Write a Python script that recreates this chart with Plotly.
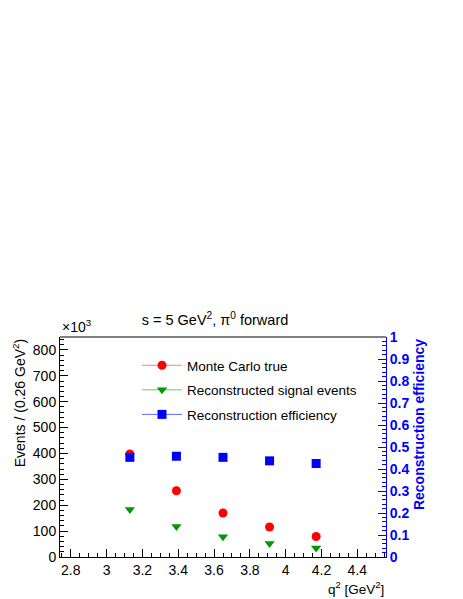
import plotly.graph_objects as go

# bin centres of q^2 (bin width 0.26 GeV^2)
q2 = [3.13, 3.39, 3.65, 3.91, 4.17]
mc_true = [398, 256, 170, 116, 79]          # x10^3 events
reco_signal = [184, 118, 78, 52, 35]        # x10^3 events
efficiency = [0.453, 0.458, 0.453, 0.437, 0.425]

font = "Liberation Sans, Arial, sans-serif"

fig = go.Figure()

fig.add_trace(go.Scatter(x=q2, y=mc_true, mode="markers", showlegend=False,
                         marker=dict(symbol="circle", size=9, color="#ff0000")))
fig.add_trace(go.Scatter(x=q2, y=reco_signal, mode="markers", showlegend=False,
                         marker=dict(symbol="triangle-down", size=9, color="#009900")))
fig.add_trace(go.Scatter(x=q2, y=efficiency, mode="markers", showlegend=False, yaxis="y2",
                         marker=dict(symbol="square", size=9, color="#0000ff")))

# legend entries (line + marker, like the ROOT legend)
fig.add_trace(go.Scatter(x=[None], y=[None], mode="lines+markers", name="Monte Carlo true",
                         legendgroup="a", line=dict(color="#ff8080", width=1),
                         marker=dict(symbol="circle", size=9, color="#ff0000")))
fig.add_trace(go.Scatter(x=[None], y=[None], mode="lines+markers", name="Reconstructed signal events",
                         legendgroup="b", line=dict(color="#66cc66", width=1),
                         marker=dict(symbol="triangle-down", size=9, color="#009900")))
fig.add_trace(go.Scatter(x=[None], y=[None], mode="lines+markers", name="Reconstruction efficiency",
                         legendgroup="c", line=dict(color="#6666ff", width=1),
                         marker=dict(symbol="square", size=9, color="#0000ff")))

# page body adds an 8px margin, so the figure is drawn 8px smaller and offset
fig.update_layout(
    width=455, height=591,
    margin=dict(l=52, r=77, t=329, b=42),
    paper_bgcolor="white", plot_bgcolor="white",
    font=dict(family=font, size=14, color="black"),
    title=dict(text="s = 5 GeV<sup>2</sup>, π<sup>0</sup> forward", x=207 / 455, xanchor="center",
               y=1 - 312 / 591, yanchor="middle", font=dict(size=14.5)),
    xaxis=dict(range=[2.74, 4.56], dtick=0.2, tick0=2.8, ticks="inside", ticklen=8,
               tickcolor="black", showgrid=False, zeroline=False, showline=True,
               linecolor="black", mirror=False,
               minor=dict(dtick=0.05, ticks="inside", ticklen=4, tickcolor="black")),
    yaxis=dict(range=[0, 850], dtick=100, ticks="inside", ticklen=8, tickcolor="black",
               showgrid=False, zeroline=False, showline=True, linecolor="black",
               minor=dict(dtick=20, ticks="inside", ticklen=4, tickcolor="black")),
    yaxis2=dict(range=[0, 1], dtick=0.1, overlaying="y", side="right", anchor="x",
                ticks="inside", ticklen=8, tickcolor="#0000ff", showgrid=False,
                zeroline=False, showline=True, linecolor="#0000ff",
                tickfont=dict(color="#0000ff", size=14, weight="bold"),
                tickformat="~g",
                minor=dict(dtick=0.02, ticks="inside", ticklen=4, tickcolor="#0000ff")),
    legend=dict(x=77 / 326, y=(549 - 342) / 220, xanchor="left", yanchor="top",
                bgcolor="rgba(0,0,0,0)", tracegroupgap=4, itemwidth=40,
                font=dict(size=13.5)),
    shapes=[dict(type="line", xref="paper", yref="paper", x0=0, x1=1, y0=1, y1=1,
                 line=dict(color="black", width=1))],
    annotations=[
        dict(text="×10<sup>3</sup>", xref="paper", yref="paper", x=0, y=1, xanchor="left",
             yanchor="bottom", showarrow=False, font=dict(size=14)),
        dict(text="Events / (0.26 GeV<sup>2</sup>)", xref="paper", yref="paper", x=-0.125, y=1,
             xanchor="center", yanchor="top", textangle=-90, showarrow=False, font=dict(size=14)),
        dict(text="<b>Reconstruction efficiency</b>", xref="paper", yref="paper", x=1.1, y=1,
             xanchor="center", yanchor="top", textangle=-90, showarrow=False,
             font=dict(size=14, color="#0000ff")),
        dict(text="q<sup>2</sup> [GeV<sup>2</sup>]", xref="paper", yref="paper", x=1, y=-0.09,
             xanchor="right", yanchor="top", showarrow=False, font=dict(size=13.5)),
    ],
)

fig.write_html("out.html")
